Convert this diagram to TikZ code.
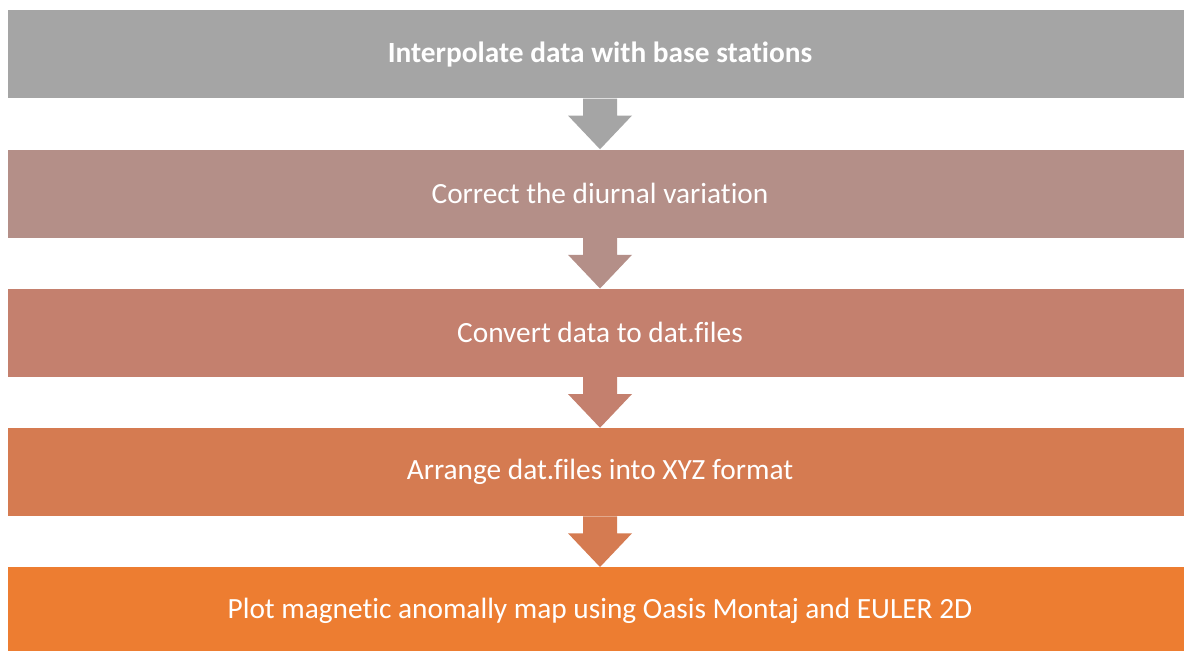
\documentclass[tikz,border=0pt]{standalone}
\usepackage{fontspec}
\setmainfont[Ligatures=NoCommon]{Carlito}
\definecolor{stepA}{HTML}{A5A5A5}
\definecolor{stepB}{HTML}{B48F88}
\definecolor{stepC}{HTML}{C4806E}
\definecolor{stepD}{HTML}{D57B51}
\definecolor{stepE}{HTML}{ED7D31}
\begin{document}
\begin{tikzpicture}[x=0.75pt,y=-0.75pt,
  stepbox/.style={minimum width=1184*0.75pt,minimum height=88*0.75pt,
    inner sep=0pt,text=white,font=\fontsize{22pt}{26pt}\selectfont,anchor=north}]
\useasboundingbox (0,0) rectangle (1184,650);
\clip (0,0) rectangle (1184,650);
\fill[white] (0,0) rectangle (1184,650);
\node[stepbox,fill=stepA,font=\fontsize{22pt}{26pt}\selectfont\bfseries] (s1) at (600,10) {Interpolate data with base stations};
\node[stepbox,fill=stepB] (s2) at (600,149.25) {Correct the diurnal variation};
\node[stepbox,fill=stepC] (s3) at (600,288.5) {Convert data to dat.files};
\node[stepbox,fill=stepD] (s4) at (600,427.75) {Arrange dat.files into XYZ format};
\node[stepbox,fill=stepE] (s5) at (600,567) {Plot magnetic anomally map using Oasis Montaj and EULER 2D};
% block arrows joining consecutive steps
\foreach \a/\b/\c in {s1/s2/stepA,s2/s3/stepB,s3/s4/stepC,s4/s5/stepD}{
  \fill[\c] ([xshift=-17*0.75pt]\a.south) -- ([xshift=17*0.75pt]\a.south)
    -- ([xshift=17*0.75pt,yshift=-17*0.75pt]\a.south)
    -- ([xshift=32*0.75pt,yshift=-17*0.75pt]\a.south)
    -- (\b.north)
    -- ([xshift=-32*0.75pt,yshift=-17*0.75pt]\a.south)
    -- ([xshift=-17*0.75pt,yshift=-17*0.75pt]\a.south) -- cycle;
}
\end{tikzpicture}
\end{document}
